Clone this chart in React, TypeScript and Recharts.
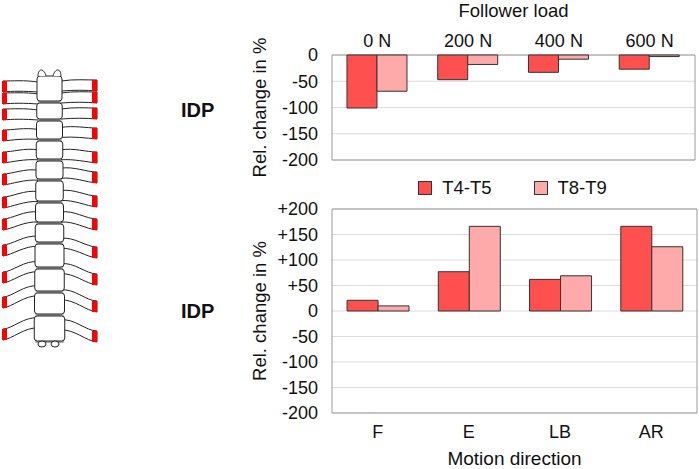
import React from 'react';
import { BarChart, Bar, XAxis, YAxis, CartesianGrid, ReferenceArea, Legend } from 'recharts';

const loadCategories = ['0 N', '200 N', '400 N', '600 N'];
const loadT4T5 = [-101, -47, -33, -27];
const loadT8T9 = [-69, -18, -8, -3];

const motionCategories = ['F', 'E', 'LB', 'AR'];
const motionT4T5 = [21, 77, 62, 166];
const motionT8T9 = [10, 166, 69, 126];

const seriesNames = ['T4-T5', 'T8-T9'];
const seriesColors = ['#ff5050', '#ffaaaa'];

const loadTicks = [0, -50, -100, -150, -200];
const motionTicks = [200, 150, 100, 50, 0, -50, -100, -150, -200];

const topData = loadCategories.map((name, i) => ({ name, t4: loadT4T5[i], t8: loadT8T9[i] }));
const bottomData = motionCategories.map((name, i) => ({ name, t4: motionT4T5[i], t8: motionT8T9[i] }));

const FONT = '"Liberation Sans", Arial, sans-serif';
const tickStyle = { fill: '#111', fontSize: 18, fontFamily: FONT };

const yTitle = (props: any) => {
  const vb = props.viewBox || {};
  const x = vb.x + 7;
  const y = vb.y + vb.height / 2;
  return (
    <text x={x} y={y} transform={`rotate(-90, ${x}, ${y})`} textAnchor="middle" dominantBaseline="central"
      fontSize={18.5} fontFamily={FONT} fill="#111">Rel. change in %</text>
  );
};

const topTitle = (props: any) => {
  const vb = props.viewBox || {};
  return (
    <text x={vb.x + vb.width / 2} y={vb.y - 8} textAnchor="middle" fontSize={18.5} fontFamily={FONT} fill="#111">Follower load</text>
  );
};

const bottomTitle = (props: any) => {
  const vb = props.viewBox || {};
  return (
    <text x={vb.x + vb.width / 2} y={vb.y + vb.height - 4} textAnchor="middle" fontSize={19} fontFamily={FONT} fill="#111">Motion direction</text>
  );
};

const LegendContent = () => (
  <div style={{ display: 'flex', justifyContent: 'center', fontFamily: FONT, fontSize: 18.5, color: '#111' }}>
    {seriesNames.map((n, i) => (
      <div key={n} style={{ display: 'flex', alignItems: 'center', marginRight: i === 0 ? 42 : 0 }}>
        <span style={{ display: 'inline-block', width: 12, height: 12, background: seriesColors[i], border: '1px solid #333', marginRight: 10 }} />
        <span>{n}</span>
      </div>
    ))}
  </div>
);

const leftLevels = [87, 99, 115, 136, 158, 180, 203, 225, 251, 278, 303, 335];
const rightLevels = [86, 98, 114, 134, 158, 178, 202, 225, 253, 280, 307, 337];
const discs = [75, 102, 120, 140, 160, 180, 202, 223, 243, 268, 292, 315, 342];

const Spine = () => (
  <svg width={110} height={469} style={{ position: 'absolute', left: 0, top: 0 }}>
    {leftLevels.map((cy, i) => {
      const drop = i < 3 ? 0 : Math.min(12, (i - 2) * 1.6);
      const iy = cy - drop;
      return (
        <g key={'l' + i}>
          <path d={`M38 ${iy - 5} C 25 ${iy - 7}, 12 ${cy - 6}, 3 ${cy - 6} L 3 ${cy + 5} C 12 ${cy + 4}, 25 ${iy + 4}, 38 ${iy + 5}`}
            fill="#fff" stroke="#222" strokeWidth={1} />
          <rect x={2} y={cy - 6} width={5} height={11} fill="#ff0000" />
        </g>
      );
    })}
    {rightLevels.map((cy, i) => {
      const drop = i < 3 ? 0 : Math.min(12, (i - 2) * 1.6);
      const iy = cy - drop;
      return (
        <g key={'r' + i}>
          <path d={`M61 ${iy - 5} C 74 ${iy - 7}, 86 ${cy - 6}, 97 ${cy - 6} L 97 ${cy + 5} C 86 ${cy + 4}, 74 ${iy + 4}, 61 ${iy + 5}`}
            fill="#fff" stroke="#222" strokeWidth={1} />
          <rect x={92} y={cy - 6} width={5} height={11} fill="#ff0000" />
        </g>
      );
    })}
    {discs.slice(0, -1).map((y0, i) => {
      const y1 = discs[i + 1];
      const w = 25 + i * 0.5;
      return (
        <g key={'b' + i}>
          <rect x={49.5 - w / 2} y={y0 + 1} width={w} height={y1 - y0 - 2} rx={3} fill="#fff" stroke="#222" strokeWidth={1} />
          <line x1={49.5 - w / 2 + 1} x2={49.5 + w / 2 - 1} y1={y1} y2={y1} stroke="#222" strokeWidth={0.8} />
        </g>
      );
    })}
    <path d="M38 76 C 38 68, 44 68, 46 76" fill="#fff" stroke="#222" />
    <path d="M53 76 C 55 68, 61 68, 61 76" fill="#fff" stroke="#222" />
    <ellipse cx={42} cy={344} rx={4} ry={3} fill="#fff" stroke="#222" />
    <ellipse cx={55} cy={344} rx={4} ry={3} fill="#fff" stroke="#222" />
  </svg>
);

export default function App() {
  return (
    <div style={{ position: 'absolute', left: 0, top: 0, width: 699, height: 469, background: '#fff', fontFamily: FONT }}>
      <Spine />
      <svg width={260} height={469} style={{ position: 'absolute', left: 0, top: 0 }}>
        <text x={181} y={117} fontSize={20} fontWeight="bold" fontFamily={FONT} fill="#111">IDP</text>
        <text x={181} y={318} fontSize={20} fontWeight="bold" fontFamily={FONT} fill="#111">IDP</text>
      </svg>
      <div style={{ position: 'absolute', left: 0, top: 0 }}>
        <BarChart width={699} height={200} data={topData} margin={{ top: 25, right: 4, bottom: 40, left: 252 }}
          barCategoryGap="16.5%" barGap={0}>
          <CartesianGrid vertical={false} stroke="#dcdcdc" />
          <XAxis dataKey="name" orientation="top" height={30} axisLine={false} tickLine={false} tickSize={0}
            tickMargin={8} tick={tickStyle} label={{ content: topTitle }} />
          <YAxis width={80} domain={[-200, 0]} ticks={loadTicks} interval={0} axisLine={false} tickLine={false}
            tickSize={0} tickMargin={14} tick={tickStyle} label={{ content: yTitle }} />
          <ReferenceArea y1={-200} y2={0} fill="none" stroke="#9a9a9a" strokeWidth={1} ifOverflow="visible" />
          <Bar dataKey="t4" name={seriesNames[0]} fill={seriesColors[0]} stroke="#333" strokeWidth={1} isAnimationActive={false} />
          <Bar dataKey="t8" name={seriesNames[1]} fill={seriesColors[1]} stroke="#333" strokeWidth={1} isAnimationActive={false} />
        </BarChart>
      </div>
      <div style={{ position: 'absolute', left: 0, top: 165 }}>
        <BarChart width={699} height={304} data={bottomData} margin={{ top: 44, right: 2, bottom: 0, left: 252 }}
          barCategoryGap="16.5%" barGap={0}>
          <CartesianGrid vertical={false} stroke="#dcdcdc" />
          <XAxis dataKey="name" height={56} axisLine={false} tickLine={false} tickSize={0} tickMargin={12}
            tick={tickStyle} label={{ content: bottomTitle }} />
          <YAxis width={80} domain={[-200, 200]} ticks={motionTicks} interval={0} axisLine={false} tickLine={false}
            tickSize={0} tickMargin={14} tick={tickStyle} tickFormatter={(v: number) => (v > 0 ? `+${v}` : `${v}`)}
            label={{ content: yTitle }} />
          <ReferenceArea y1={-200} y2={200} fill="none" stroke="#9a9a9a" strokeWidth={1} ifOverflow="visible" />
          <Legend verticalAlign="middle" align="center" layout="horizontal" content={<LegendContent />}
            wrapperStyle={{ top: 12, left: 330, width: 365 }} />
          <Bar dataKey="t4" name={seriesNames[0]} fill={seriesColors[0]} stroke="#333" strokeWidth={1} isAnimationActive={false} />
          <Bar dataKey="t8" name={seriesNames[1]} fill={seriesColors[1]} stroke="#333" strokeWidth={1} isAnimationActive={false} />
        </BarChart>
      </div>
    </div>
  );
}
